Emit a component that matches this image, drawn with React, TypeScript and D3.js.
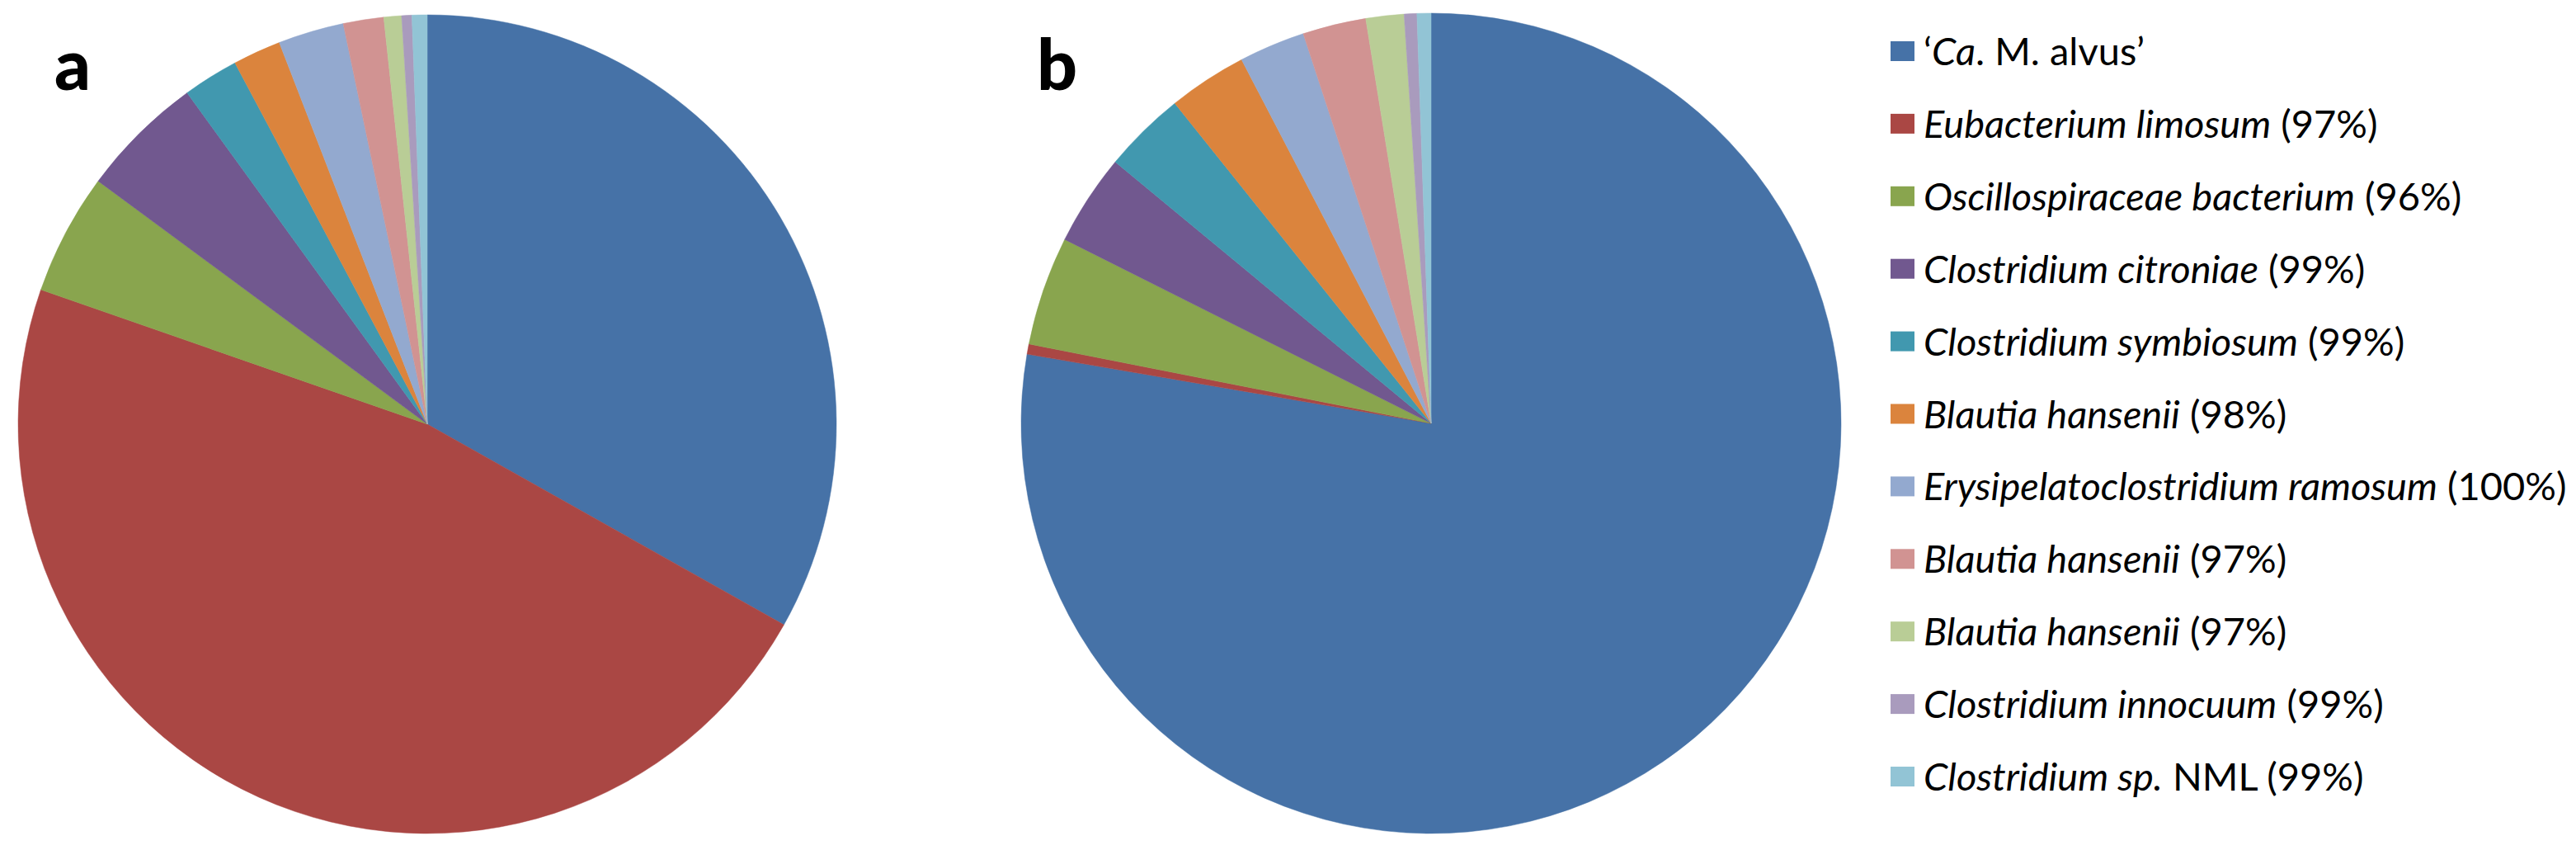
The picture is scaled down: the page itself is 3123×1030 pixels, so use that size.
import React from "react";
import * as d3 from "d3";

const categories = [
  "Ca. M. alvus",
  "Eubacterium limosum (97%)",
  "Oscillospiraceae bacterium (96%)",
  "Clostridium citroniae (99%)",
  "Clostridium symbiosum (99%)",
  "Blautia hansenii (98%)",
  "Erysipelatoclostridium ramosum (100%)",
  "Blautia hansenii (97%)",
  "Blautia hansenii (97%) ",
  "Clostridium innocuum (99%)",
  "Clostridium sp. NML (99%)",
];

// legend label parts: [text, italic]
const legendParts: [string, boolean][][] = [
  [["‘", false], ["Ca", true], [". M. alvus’", false]],
  [["Eubacterium limosum", true], [" (97%)", false]],
  [["Oscillospiraceae bacterium", true], [" (96%)", false]],
  [["Clostridium citroniae", true], [" (99%)", false]],
  [["Clostridium symbiosum", true], [" (99%)", false]],
  [["Blautia hansenii", true], [" (98%)", false]],
  [["Erysipelatoclostridium ramosum", true], [" (100%)", false]],
  [["Blautia hansenii", true], [" (97%)", false]],
  [["Blautia hansenii", true], [" (97%)", false]],
  [["Clostridium innocuum", true], [" (99%)", false]],
  [["Clostridium sp.", true], [" NML (99%)", false]],
];

const valuesA = [33.2, 47.25, 4.8, 4.9, 2.2, 1.9, 2.6, 1.6, 0.7, 0.4, 0.6];
const valuesB = [77.7, 0.4, 4.3, 3.6, 3.25, 3.1, 2.6, 2.5, 1.5, 0.5, 0.55];

const colors = [
  "#4672A7",
  "#AA4744",
  "#89A54E",
  "#71588F",
  "#4198AF",
  "#DB843D",
  "#93A9CF",
  "#D19392",
  "#B9CD96",
  "#A99BBD",
  "#92C4D5",
];

const panelLabels = ["a", "b"];

const W = 3123;
const H = 1030;

function Pie({ values, cx, cy, r }: { values: number[]; cx: number; cy: number; r: number }) {
  const pie = d3
    .pie<number>()
    .sort(null)
    .startAngle(0)
    .endAngle(2 * Math.PI)
    .value((d) => d);
  const arc = d3.arc<d3.PieArcDatum<number>>().innerRadius(0).outerRadius(r);
  const arcs = pie(values);
  return (
    <g transform={`translate(${cx},${cy})`}>
      {arcs.map((a, i) => (
        <path key={i} d={arc(a) || ""} fill={colors[i]} stroke={colors[i]} strokeWidth={0.5} />
      ))}
    </g>
  );
}

export default function App() {
  const legendY = d3
    .scaleLinear()
    .domain([0, categories.length - 1])
    .range([62, 941]);
  return (
    <svg
      width={W}
      height={H}
      style={{ position: "absolute", left: 0, top: 0, display: "block", background: "#fff" }}
    >
      <rect x={0} y={0} width={W} height={H} fill="#fff" />
      <Pie values={valuesA} cx={518} cy={514} r={496} />
      <Pie values={valuesB} cx={1735} cy={513} r={497} />
      <text x={66} y={109} fontFamily="Lato, 'Liberation Sans', sans-serif" fontWeight={900} fontSize={86} fill="#000">
        {panelLabels[0]}
      </text>
      <text x={1257} y={109} fontFamily="Lato, 'Liberation Sans', sans-serif" fontWeight={900} fontSize={86} fill="#000">
        {panelLabels[1]}
      </text>
      <g>
        {categories.map((c, i) => {
          const y = legendY(i);
          return (
            <g key={c}>
              <rect x={2292} y={y - 12} width={29} height={24} fill={colors[i]} />
              <text
                x={2332}
                y={y + 17}
                fontFamily="Lato, 'Noto Sans', sans-serif"
                fontSize={47}
                fill="#000"
              >
                {legendParts[i].map(([t, it], j) => (
                  <tspan key={j} fontStyle={it ? "italic" : "normal"} xmlSpace="preserve">
                    {t}
                  </tspan>
                ))}
              </text>
            </g>
          );
        })}
      </g>
    </svg>
  );
}
